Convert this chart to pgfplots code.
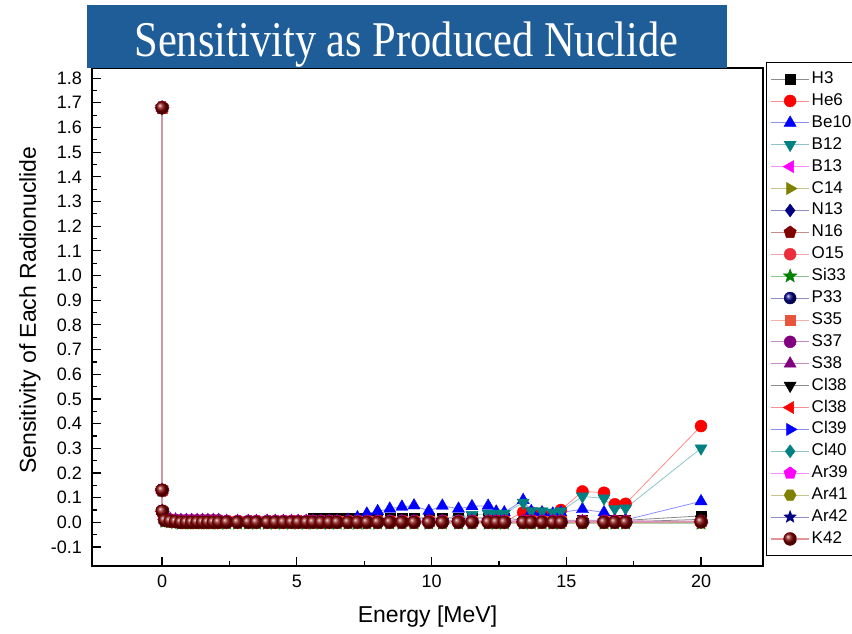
\documentclass[border=0pt]{standalone}
\usepackage{pgfplots}
\pgfplotsset{compat=1.18}
\usepackage{pgfplotstable}
\usepackage{fontspec}
\setmainfont{Liberation Sans}
\newfontfamily\titlefont{Liberation Serif}

\definecolor{teal2}{RGB}{0,128,128}
\definecolor{olive2}{RGB}{128,128,0}
\definecolor{navy2}{RGB}{0,0,128}
\definecolor{wine}{RGB}{128,0,0}
\definecolor{crim}{RGB}{235,45,60}
\definecolor{green2}{RGB}{0,128,0}
\definecolor{salmon2}{RGB}{230,85,60}
\definecolor{purple2}{RGB}{128,0,128}
\definecolor{magenta2}{RGB}{255,0,255}
\definecolor{titleblue}{RGB}{31,93,153}
\definecolor{rosy}{RGB}{228,150,150}

\pgfdeclareplotmark{fstar}{%
  \pgfpathmoveto{\pgfpointpolar{90}{1.3\pgfplotmarksize}}%
  \pgfpathlineto{\pgfpointpolar{126}{0.55\pgfplotmarksize}}%
  \pgfpathlineto{\pgfpointpolar{162}{1.3\pgfplotmarksize}}%
  \pgfpathlineto{\pgfpointpolar{198}{0.55\pgfplotmarksize}}%
  \pgfpathlineto{\pgfpointpolar{234}{1.3\pgfplotmarksize}}%
  \pgfpathlineto{\pgfpointpolar{270}{0.55\pgfplotmarksize}}%
  \pgfpathlineto{\pgfpointpolar{306}{1.3\pgfplotmarksize}}%
  \pgfpathlineto{\pgfpointpolar{342}{0.55\pgfplotmarksize}}%
  \pgfpathlineto{\pgfpointpolar{18}{1.3\pgfplotmarksize}}%
  \pgfpathlineto{\pgfpointpolar{54}{0.55\pgfplotmarksize}}%
  \pgfpathclose
  \pgfusepathqfillstroke
}
\pgfdeclareplotmark{hexa}{%
  \pgfpathmoveto{\pgfpointpolar{0}{1.1\pgfplotmarksize}}%
  \pgfpathlineto{\pgfpointpolar{60}{1.1\pgfplotmarksize}}%
  \pgfpathlineto{\pgfpointpolar{120}{1.1\pgfplotmarksize}}%
  \pgfpathlineto{\pgfpointpolar{180}{1.1\pgfplotmarksize}}%
  \pgfpathlineto{\pgfpointpolar{240}{1.1\pgfplotmarksize}}%
  \pgfpathlineto{\pgfpointpolar{300}{1.1\pgfplotmarksize}}%
  \pgfpathclose
  \pgfusepathqfillstroke
}

% columns: E H3 He6 Be10 B12 B13 C14 N13 N16 O15 Si33 P33 S35 S37 S38 ClA ClB Cl39 Cl40 Ar39 Ar41 Ar42 K42
\pgfplotstableread{
E H3 He6 Be10 B12 B13 C14 N13 N16 O15 Si33 P33 S35 S37 S38 ClA ClB Cl39 Cl40 Ar39 Ar41 Ar42 K42
0 1.68 1.68 1.68 1.68 1.68 1.68 1.68 1.68 1.68 1.68 1.68 1.68 1.68 1.68 1.68 1.68 1.68 1.68 1.68 1.68 1.68 1.68
0.001 0.13 0.13 0.13 0.13 0.13 0.13 0.13 0.13 0.13 0.13 0.13 0.13 0.13 0.13 0.13 0.13 0.13 0.13 0.13 0.13 0.13 0.13
0.01 0.045 0.045 0.045 0.045 0.045 0.045 0.045 0.045 0.045 0.045 0.045 0.045 0.045 0.045 0.045 0.045 0.045 0.045 0.045 0.045 0.045 0.045
0.1 0.012 0.012 0.010 0.010 0.011 0.005 0.010 0.012 0.013 0.004 0.009 0.011 0.014 0.016 0.010 0.011 0.008 0.010 0.011 0.006 0.009 0.008
0.3 0.008 0.008 0.008 0.007 0.008 0.002 0.007 0.009 0.010 0.001 0.006 0.008 0.011 0.013 0.007 0.008 0.005 0.007 0.008 0.003 0.006 0.005
0.5 0.006 0.006 0.006 0.005 0.006 0.000 0.005 0.007 0.008 -0.001 0.004 0.006 0.009 0.011 0.005 0.006 0.003 0.005 0.006 0.001 0.004 0.003
0.7 0.004 0.003 0.004 0.002 0.003 -0.003 0.002 0.004 0.005 -0.004 0.001 0.003 0.008 0.009 0.002 0.003 0.000 0.002 0.003 -0.002 0.001 0.000
0.9 0.004 0.003 0.004 0.002 0.003 -0.003 0.002 0.004 0.005 -0.004 0.001 0.003 0.008 0.009 0.002 0.003 0.000 0.002 0.003 -0.002 0.001 0.000
1.1 0.004 0.003 0.004 0.002 0.003 -0.003 0.002 0.004 0.005 -0.004 0.001 0.003 0.008 0.009 0.002 0.003 0.000 0.002 0.003 -0.002 0.001 0.000
1.3 0.004 0.003 0.004 0.002 0.003 -0.003 0.002 0.004 0.005 -0.004 0.001 0.003 0.008 0.009 0.002 0.003 0.000 0.002 0.003 -0.002 0.001 0.000
1.5 0.004 0.003 0.004 0.002 0.003 -0.003 0.002 0.004 0.005 -0.004 0.001 0.003 0.008 0.009 0.002 0.003 0.000 0.002 0.003 -0.002 0.001 0.000
1.7 0.004 0.003 0.004 0.002 0.003 -0.003 0.002 0.004 0.005 -0.004 0.001 0.003 0.008 0.009 0.002 0.003 0.000 0.002 0.003 -0.002 0.001 0.000
1.9 0.004 0.003 0.004 0.002 0.003 -0.003 0.002 0.004 0.005 -0.004 0.001 0.003 0.008 0.009 0.002 0.003 0.000 0.002 0.003 -0.002 0.001 0.000
2.1 0.004 0.003 0.004 0.002 0.003 -0.003 0.002 0.004 0.005 -0.004 0.001 0.003 0.008 0.009 0.002 0.003 0.000 0.002 0.003 -0.002 0.001 0.000
2.4 0.004 0.003 0.004 0.002 0.003 -0.003 0.002 0.004 0.005 -0.004 0.001 0.003 0.004 0.005 0.002 0.003 0.000 0.002 0.003 -0.002 0.001 0.000
2.8 0.004 0.003 0.004 0.002 0.003 -0.003 0.002 0.004 0.005 -0.004 0.001 0.003 0.004 0.005 0.002 0.003 0.000 0.002 0.003 -0.002 0.001 0.000
3.2 0.004 0.003 0.004 0.002 0.003 -0.003 0.002 0.004 0.005 -0.004 0.001 0.003 0.004 0.005 0.002 0.003 0.000 0.002 0.003 -0.002 0.001 0.000
3.5 0.004 0.003 0.004 0.002 0.003 -0.003 0.002 0.004 0.005 -0.004 0.001 0.003 0.004 0.005 0.002 0.003 0.000 0.002 0.003 -0.002 0.001 0.000
3.9 0.004 0.003 0.004 0.002 0.003 -0.003 0.002 0.004 0.005 -0.004 0.001 0.003 0.004 0.005 0.002 0.003 0.000 0.002 0.003 -0.002 0.001 0.000
4.2 0.004 0.003 0.004 0.002 0.003 -0.003 0.002 0.004 0.005 -0.004 0.001 0.003 0.004 0.005 0.002 0.003 0.000 0.002 0.003 -0.002 0.001 0.000
4.5 0.004 0.003 0.004 0.002 0.003 -0.003 0.002 0.004 0.005 -0.004 0.001 0.003 0.004 0.005 0.002 0.003 0.000 0.002 0.003 -0.002 0.001 0.000
4.8 0.004 0.003 0.004 0.002 0.003 -0.003 0.002 0.004 0.005 -0.004 0.001 0.003 0.004 0.005 0.002 0.003 0.000 0.002 0.003 -0.002 0.001 0.000
5.05 0.004 0.003 0.004 0.002 0.003 -0.003 0.002 0.004 0.005 -0.004 0.001 0.003 0.004 0.005 0.002 0.003 0.000 0.002 0.003 -0.002 0.001 0.000
5.35 0.004 0.003 0.004 0.002 0.003 -0.003 0.002 0.004 0.005 -0.004 0.001 0.003 0.004 0.005 0.002 0.003 0.000 0.002 0.003 -0.002 0.001 0.000
5.6 0.018 0.003 0.004 0.002 0.003 -0.003 0.002 0.004 0.005 -0.004 0.001 0.003 0.004 0.005 0.002 0.003 0.000 0.002 0.003 -0.002 0.001 0.000
5.9 0.018 0.003 0.004 0.002 0.003 -0.003 0.002 0.004 0.005 -0.004 0.001 0.003 0.004 0.005 0.002 0.003 0.000 0.002 0.003 -0.002 0.001 0.000
6.2 0.018 0.003 0.004 0.002 0.003 -0.003 0.002 0.004 0.005 -0.004 0.001 0.003 0.004 0.005 0.002 0.003 0.000 0.002 0.003 -0.002 0.001 0.000
6.5 0.018 0.003 0.005 0.002 0.003 -0.003 0.002 0.004 0.005 -0.004 0.001 0.003 0.004 0.005 0.002 0.003 0.000 0.002 0.003 -0.002 0.001 0.000
6.9 0.018 0.003 0.010 0.002 0.003 -0.003 0.002 0.004 0.005 -0.004 0.001 0.003 0.004 0.005 0.002 0.003 0.000 0.002 0.003 -0.002 0.001 0.000
7.25 0.018 0.003 0.020 0.002 0.003 -0.003 0.002 0.004 0.005 -0.004 0.001 0.003 0.004 0.005 0.002 0.003 0.000 0.002 0.003 -0.002 0.001 0.000
7.6 0.018 0.003 0.035 0.002 0.003 -0.003 0.002 0.004 0.005 -0.004 0.001 0.003 0.004 0.005 0.002 0.003 0.000 0.002 0.003 -0.002 0.001 0.000
8.0 0.018 0.003 0.045 0.002 0.003 -0.003 0.002 0.004 0.005 -0.004 0.001 0.003 0.004 0.005 0.002 0.003 0.000 0.002 0.003 -0.002 0.001 0.000
8.45 0.018 0.003 0.055 0.002 0.003 -0.003 0.002 0.004 0.005 -0.004 0.001 0.003 0.004 0.005 0.002 0.003 0.000 0.002 0.003 -0.002 0.001 0.000
8.9 0.018 0.003 0.063 0.002 0.003 -0.003 0.002 0.004 0.005 -0.004 0.001 0.003 0.004 0.005 0.002 0.003 0.000 0.002 0.003 -0.002 0.001 0.000
9.35 0.018 0.003 0.068 0.002 0.003 -0.003 0.002 0.004 0.005 -0.004 0.001 0.003 0.004 0.005 0.002 0.003 0.000 0.002 0.003 -0.002 0.001 0.000
9.9 0.018 0.003 0.046 0.002 0.003 -0.003 0.002 0.004 0.005 -0.004 0.001 0.003 0.004 0.005 0.002 0.003 0.000 0.002 0.003 -0.002 0.001 0.000
10.4 0.018 0.003 0.067 0.002 0.003 -0.003 0.002 0.004 0.005 -0.004 0.001 0.003 0.004 0.005 0.002 0.003 0.000 0.002 0.003 -0.002 0.001 0.000
11.0 0.018 0.003 0.055 0.012 0.003 -0.003 0.002 0.004 0.005 -0.004 0.001 0.003 0.004 0.005 0.002 0.003 0.000 0.002 0.003 -0.002 0.001 0.000
11.5 0.018 0.003 0.065 0.030 0.003 -0.003 0.002 0.004 0.005 -0.004 0.001 0.003 0.004 0.005 0.002 0.003 0.000 0.002 0.003 -0.002 0.001 0.000
12.1 0.018 0.003 0.067 0.035 0.003 -0.003 0.002 0.004 0.005 -0.004 0.001 0.003 0.004 0.005 0.002 0.003 0.000 0.002 0.003 -0.002 0.001 0.000
12.4 0.018 0.003 0.043 0.035 0.003 -0.003 0.002 0.004 0.005 -0.004 0.001 0.003 0.004 0.005 0.002 0.003 0.000 0.002 0.003 -0.002 0.001 0.000
12.7 0.018 0.003 0.040 0.035 0.003 -0.003 0.002 0.004 0.005 -0.004 0.001 0.003 0.004 0.005 0.002 0.003 0.000 0.002 0.003 -0.002 0.001 0.000
13.4 0.008 0.040 0.090 0.080 0.003 -0.003 0.002 0.004 0.005 -0.004 0.001 0.003 0.004 0.005 0.002 0.003 0.000 0.002 0.003 -0.002 0.001 0.000
13.7 0.008 0.040 0.045 0.046 0.003 -0.003 0.002 0.004 0.005 -0.004 0.001 0.003 0.004 0.005 0.002 0.003 0.000 0.002 0.003 -0.002 0.001 0.000
14.1 0.008 0.035 0.040 0.045 0.003 -0.003 0.002 0.004 0.005 -0.004 0.001 0.003 0.004 0.005 0.002 0.003 0.000 0.002 0.003 -0.002 0.001 0.000
14.5 0.008 0.030 0.035 0.040 0.003 -0.003 0.002 0.004 0.005 -0.004 0.001 0.003 0.004 0.005 0.002 0.003 0.000 0.002 0.003 -0.002 0.001 0.000
14.8 0.008 0.050 0.040 0.045 0.003 -0.003 0.002 0.004 0.005 -0.004 0.001 0.003 0.004 0.005 0.002 0.003 0.000 0.002 0.003 -0.002 0.001 0.000
15.6 0.008 0.125 0.053 0.105 0.003 -0.003 0.002 0.004 0.005 -0.004 0.001 0.003 0.004 0.005 0.002 0.003 0.000 0.002 0.003 -0.002 0.001 0.000
16.4 0.008 0.120 0.040 0.097 0.003 -0.003 0.002 0.004 0.005 -0.004 0.001 0.003 0.004 0.005 0.002 0.003 0.000 0.002 0.003 -0.002 0.001 0.000
16.8 0.008 0.073 0.010 0.055 0.003 -0.003 0.002 0.004 0.005 -0.004 0.001 0.003 0.004 0.005 0.002 0.003 0.000 0.002 0.003 -0.002 0.001 0.000
17.2 0.008 0.075 0.010 0.057 0.003 -0.003 0.002 0.004 0.005 -0.004 0.001 0.003 0.004 0.005 0.002 0.003 0.000 0.002 0.003 -0.002 0.001 0.000
20.0 0.026 0.390 0.085 0.300 0.002 -0.003 0.002 0.003 0.004 -0.004 0.001 0.003 0.003 0.004 0.012 0.003 0.000 0.002 0.003 -0.002 0.001 0.002
}\datatable

\pgfplotsset{
  ser/.style n args={4}{color=#1!45, line width=0.8pt, mark=#2, mark size=#3,
    mark options={solid, fill=#1, draw=#1, line width=0.4pt, #4}},
}

\begin{document}
\begin{tikzpicture}[x=1pt,y=1pt]
\path[use as bounding box] (0,0) rectangle (852,633);
\clip (0,0) rectangle (852,633);
\begin{axis}[
  at={(92pt,67pt)}, anchor=south west,
  scale only axis, width=671pt, height=498pt,
  xmin=-2.6, xmax=22.3, ymin=-0.177, ymax=1.841,
  xtick={0,5,10,15,20},
  ytick={-0.1,0,0.1,0.2,0.3,0.4,0.5,0.6,0.7,0.8,0.9,1.0,1.1,1.2,1.3,1.4,1.5,1.6,1.7,1.8},
  minor x tick num=1, minor y tick num=1,
  tick align=inside, tick pos=left,
  major tick length=9pt, minor tick length=5pt,
  axis line style={line width=1.3pt},
  every tick/.style={line width=1.2pt, black},
  /pgf/number format/assume math mode=true,
  ticklabel style={font=\fontsize{18}{18}\selectfont},
  yticklabel style={/pgf/number format/fixed, /pgf/number format/precision=1,
     /pgf/number format/fixed zerofill, inner sep=0pt, xshift=-10pt},
  xticklabel style={inner sep=0pt, yshift=-9pt},
  xlabel={Energy [MeV]},
  ylabel={Sensitivity of Each Radionuclide},
  label style={font=\fontsize{23}{23}\selectfont},
  xlabel style={at={(axis description cs:0.5,-0.1024)}, anchor=center},
  ylabel style={at={(axis description cs:-0.0924,0.514)}, anchor=center},
  legend style={at={(1.0045,1.012)}, anchor=north west, draw=black, line width=1pt,
     fill=white, font=\fontsize{17}{17}\selectfont, row sep=0.9pt,
     nodes={text height=13pt, text depth=4pt},
     inner xsep=4pt, inner ysep=6pt},
  legend cell align=left,
  legend image code/.code={\draw[mark repeat=2,mark phase=2,#1]
     plot coordinates {(0pt,0pt) (19pt,0pt) (38pt,0pt)};},
]
\addplot[ser={black}{square*}{5pt}{}] table[x=E,y=H3]{\datatable};
\addlegendentry{H3}
\addplot[ser={red}{*}{6pt}{}] table[x=E,y=He6]{\datatable};
\addlegendentry{He6}
\addplot[ser={blue}{triangle*}{7pt}{}] table[x=E,y=Be10]{\datatable};
\addlegendentry{Be10}
\addplot[ser={teal2}{triangle*}{7pt}{rotate=180}] table[x=E,y=B12]{\datatable};
\addlegendentry{B12}
\addplot[ser={magenta2}{triangle*}{7pt}{rotate=90}] table[x=E,y=B13]{\datatable};
\addlegendentry{B13}
\addplot[ser={olive2}{triangle*}{7pt}{rotate=-90}] table[x=E,y=C14]{\datatable};
\addlegendentry{C14}
\addplot[ser={navy2}{diamond*}{6.5pt}{}] table[x=E,y=N13]{\datatable};
\addlegendentry{N13}
\addplot[ser={wine}{pentagon*}{6.5pt}{}] table[x=E,y=N16]{\datatable};
\addlegendentry{N16}
\addplot[ser={crim}{*}{6pt}{}] table[x=E,y=O15]{\datatable};
\addlegendentry{O15}
\addplot[ser={green2}{fstar}{5.5pt}{}] table[x=E,y=Si33]{\datatable};
\addlegendentry{Si33}
\addplot[ser={navy2}{ball}{6pt}{ball color=navy2}] table[x=E,y=P33]{\datatable};
\addlegendentry{P33}
\addplot[ser={salmon2}{square*}{5pt}{}] table[x=E,y=S35]{\datatable};
\addlegendentry{S35}
\addplot[ser={purple2}{*}{6pt}{}] table[x=E,y=S37]{\datatable};
\addlegendentry{S37}
\addplot[ser={purple2}{triangle*}{7pt}{}] table[x=E,y=S38]{\datatable};
\addlegendentry{S38}
\addplot[ser={black}{triangle*}{7pt}{rotate=180}] table[x=E,y=ClA]{\datatable};
\addlegendentry{Cl38}
\addplot[ser={red}{triangle*}{7pt}{rotate=90}] table[x=E,y=ClB]{\datatable};
\addlegendentry{Cl38}
\addplot[ser={blue}{triangle*}{7pt}{rotate=-90}] table[x=E,y=Cl39]{\datatable};
\addlegendentry{Cl39}
\addplot[ser={teal2}{diamond*}{6.5pt}{}] table[x=E,y=Cl40]{\datatable};
\addlegendentry{Cl40}
\addplot[ser={magenta2}{pentagon*}{6.5pt}{}] table[x=E,y=Ar39]{\datatable};
\addlegendentry{Ar39}
\addplot[ser={olive2}{hexa}{5.5pt}{}] table[x=E,y=Ar41]{\datatable};
\addlegendentry{Ar41}
\addplot[ser={navy2}{fstar}{5pt}{}] table[x=E,y=Ar42]{\datatable};
\addlegendentry{Ar42}
\addplot[ser={wine}{ball}{6.5pt}{ball color=wine}, color=rosy, line width=1.2pt] table[x=E,y=K42]{\datatable};
\addlegendentry{K42}
\end{axis}
\fill[titleblue] (87,565) rectangle (727,628);
\node[anchor=base, text=white, inner sep=0pt] at (406.5,576)
  {\scalebox{0.85}[1]{\titlefont\fontsize{50}{50}\selectfont Sensitivity as Produced Nuclide}};
\end{tikzpicture}
\end{document}
